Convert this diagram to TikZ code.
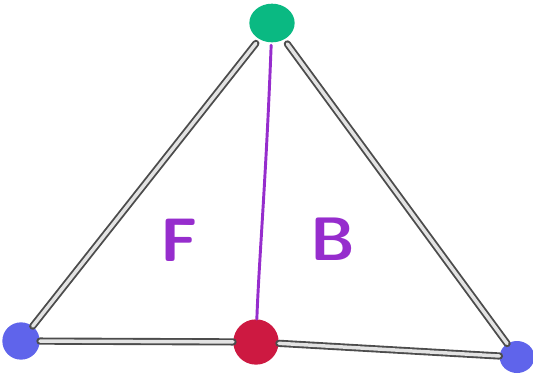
\documentclass[tikz,border=0pt]{standalone}
\usepackage{xcolor}
\usepackage{tikz}
\usetikzlibrary{positioning,calc,shapes.geometric}
\definecolor{dotgreen}{RGB}{10,185,130}
\definecolor{dotred}{RGB}{205,25,65}
\definecolor{dotblue}{RGB}{95,100,235}
\definecolor{penpurple}{RGB}{150,45,205}
\tikzset{
    vdot/.style={
        ellipse,
        fill=#1,
        inner sep=0pt,
        minimum width=30,
        minimum height=27
    },
    edgeline/.style={
        draw=gray!60!black,
        double=gray!22,
        double distance=2.6pt,
        line width=1.4pt,
        line cap=round
    },
    pen/.style={
        draw=penpurple,
        line width=2.2pt,
        line cap=round
    },
    letter/.style={
        text=penpurple,
        font=\fontsize{46}{50}\selectfont\sffamily\bfseries
    }
}
\begin{document}
\begin{tikzpicture}[x=0.75pt,y=-0.75pt]
    \useasboundingbox (0,0) rectangle (533,376);
    % corners and the foot of the line
    \node (top) [vdot=dotgreen, minimum width=34, minimum height=29] at (272,23) {};
    \node (left) [vdot=dotblue, minimum width=28, minimum height=28] at (21,341) {};
    \node (right) [vdot=dotblue, minimum width=26, minimum height=24] at (517,357) {};
    \node (foot) [vdot=dotred, minimum width=34, minimum height=34] at (256,342) {};

    \draw [edgeline, shorten <=4pt] (top) -- (left);
    \draw [edgeline, shorten <=4pt] (top) -- (right);
    \draw [edgeline] (left) -- (foot);
    \draw [edgeline] (foot) -- (right);
    \draw [pen, shorten <=2pt] (top) .. controls (266,180) and (259,260) .. (foot);

    \node (front) [letter] at (179,240) {F};
    \node (back) [letter] at (333,239) {B};
\end{tikzpicture}
\end{document}
